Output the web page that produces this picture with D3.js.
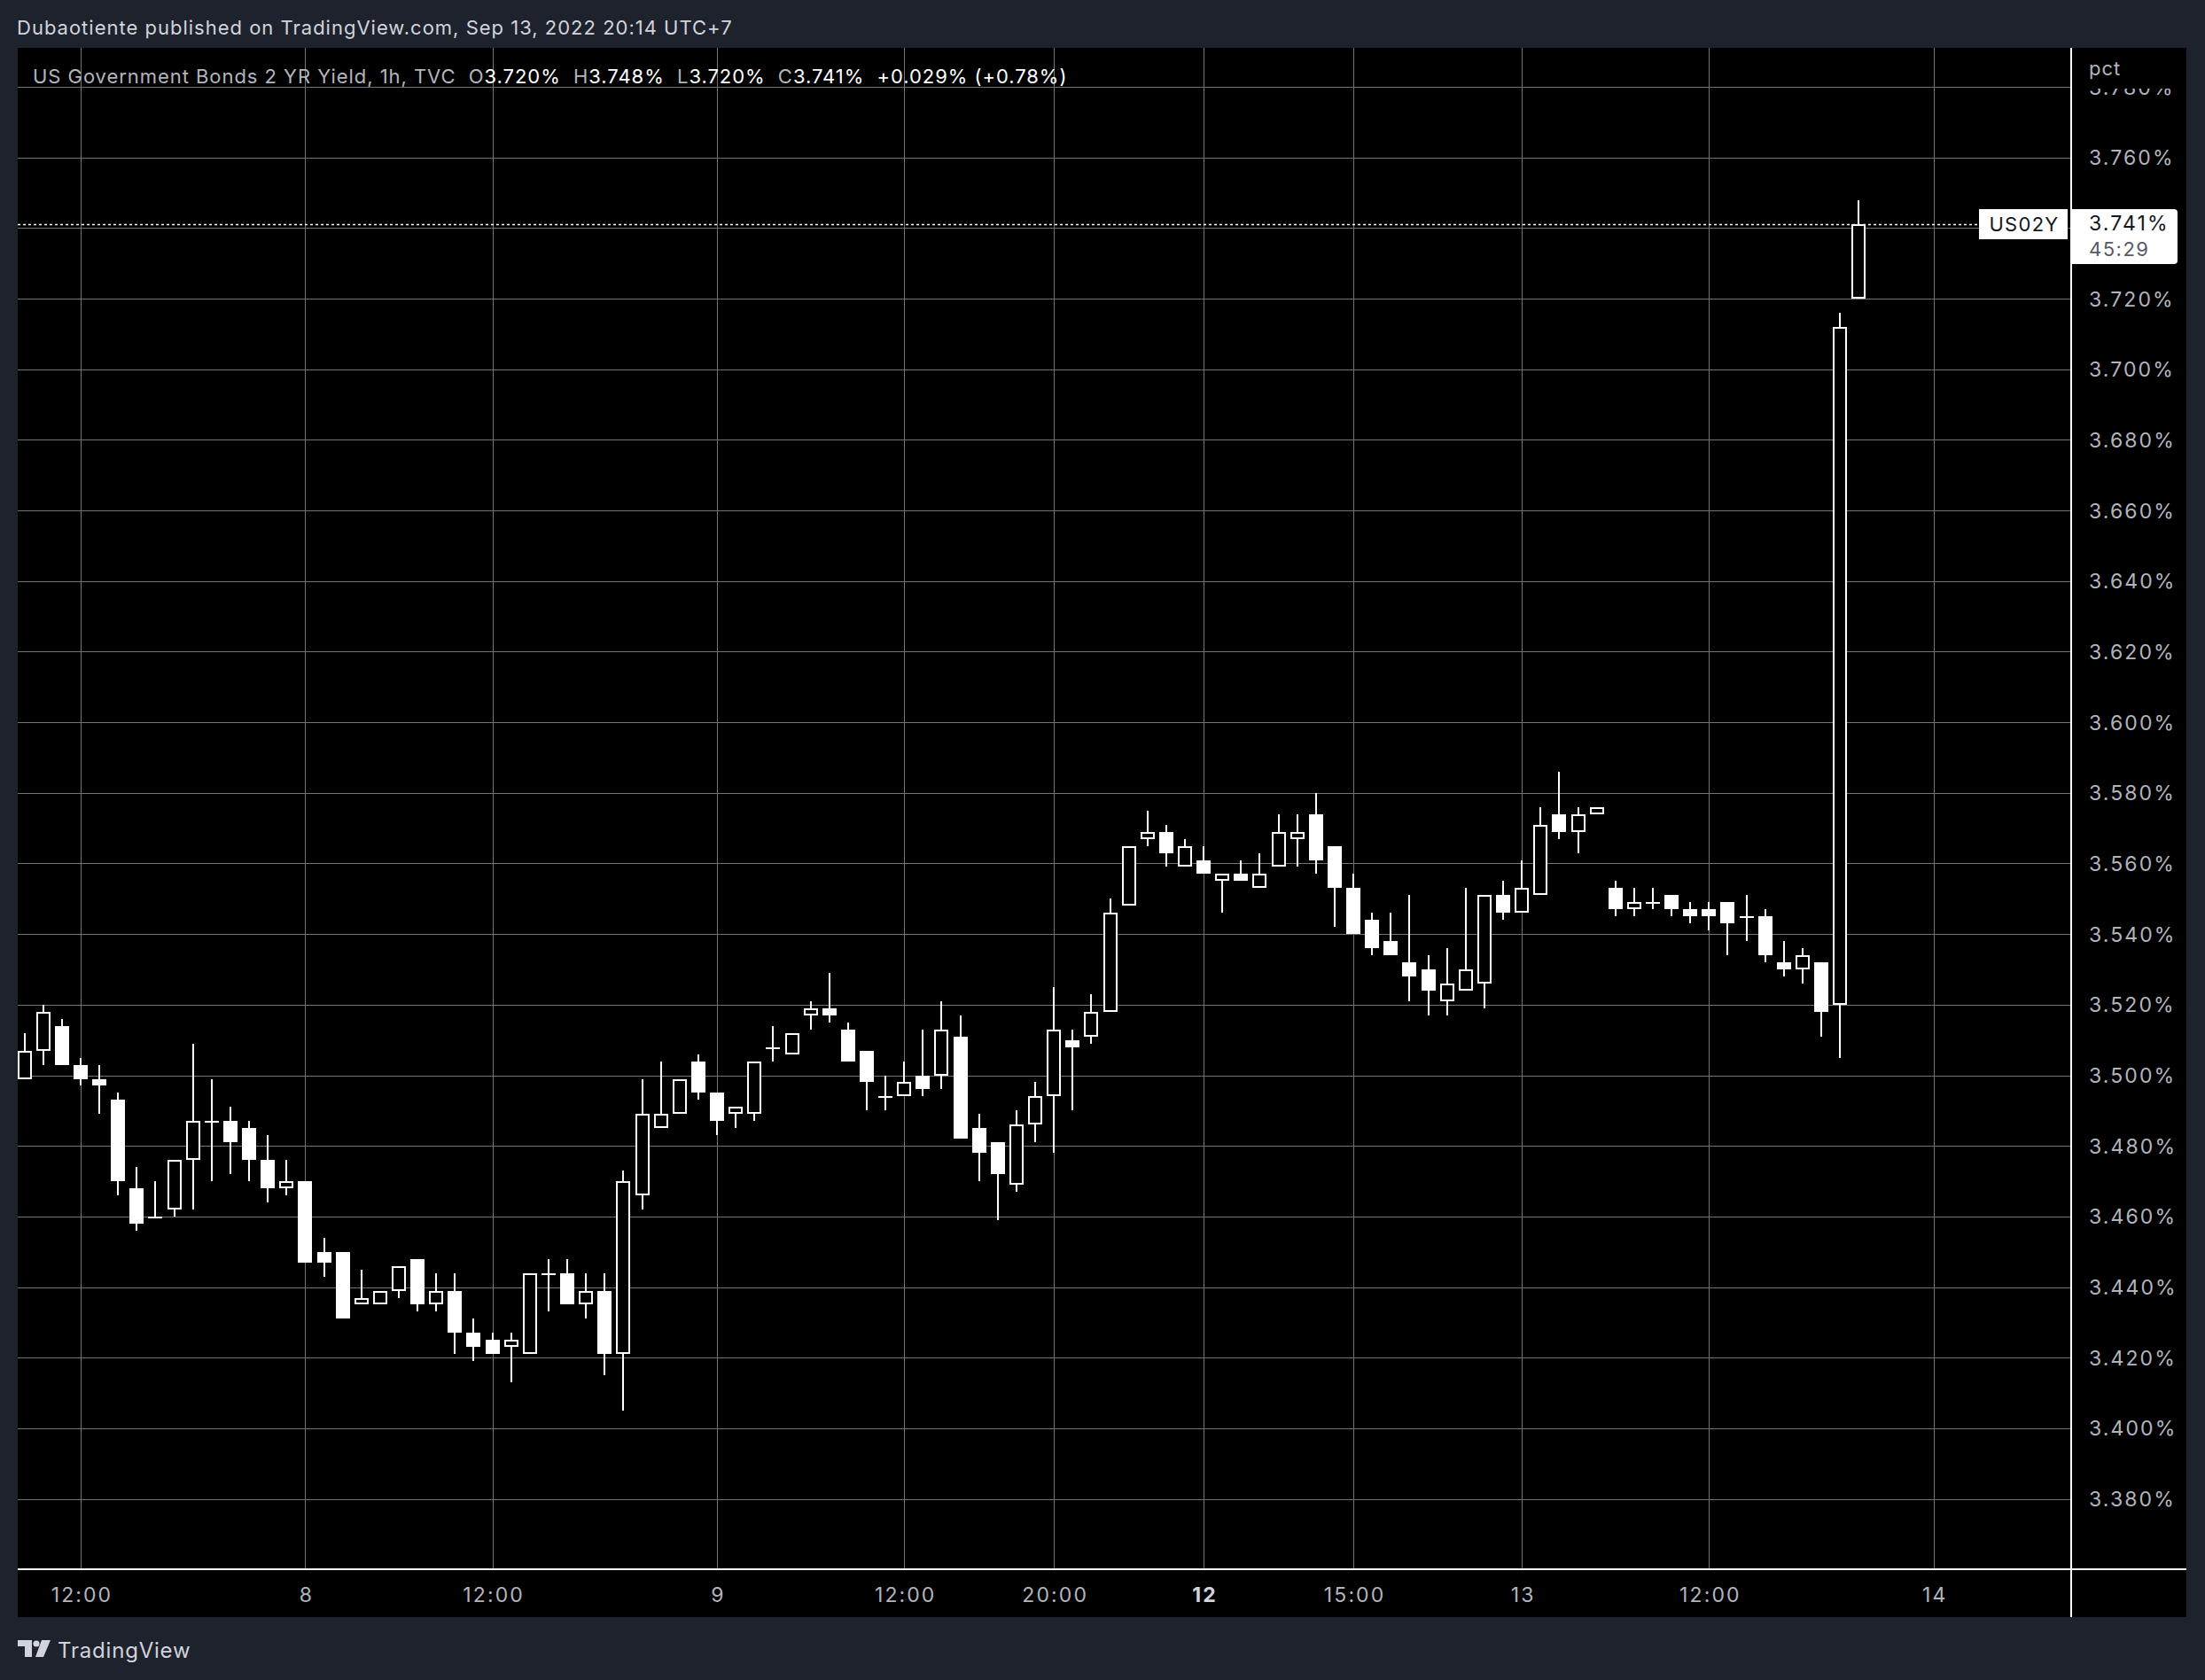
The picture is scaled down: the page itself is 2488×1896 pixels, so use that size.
<!DOCTYPE html>
<html><head><meta charset="utf-8">
<script src="https://cdn.jsdelivr.net/npm/d3@7/dist/d3.min.js"></script>
<style>
html,body{margin:0;padding:0;background:#1e222d;}
svg{display:block;}
text{white-space:pre;}
</style></head><body>
<script>
// ---- data (US02Y, 1h, TVC) ----
const opens  = [3.499,3.507,3.514,3.503,3.499,3.493,3.468,3.460,3.462,3.476,3.487,3.487,3.485,3.476,3.468,3.470,3.450,3.450,3.435,3.435,3.439,3.448,3.435,3.439,3.427,3.425,3.423,3.421,3.444,3.444,3.435,3.439,3.421,3.466,3.485,3.489,3.504,3.495,3.489,3.489,3.508,3.506,3.517,3.519,3.513,3.507,3.494,3.494,3.500,3.500,3.511,3.485,3.481,3.469,3.486,3.494,3.510,3.511,3.518,3.548,3.567,3.569,3.559,3.561,3.555,3.557,3.553,3.559,3.567,3.574,3.565,3.553,3.544,3.538,3.532,3.530,3.521,3.524,3.526,3.551,3.546,3.551,3.574,3.569,3.574,3.553,3.547,3.549,3.551,3.547,3.547,3.549,3.545,3.545,3.532,3.530,3.532,3.520,3.720];
const highs  = [3.512,3.520,3.516,3.505,3.503,3.495,3.474,3.470,3.476,3.509,3.499,3.491,3.487,3.483,3.476,3.470,3.454,3.450,3.445,3.439,3.446,3.448,3.444,3.444,3.431,3.427,3.427,3.444,3.448,3.448,3.444,3.444,3.473,3.499,3.504,3.499,3.506,3.495,3.491,3.504,3.514,3.512,3.521,3.529,3.515,3.507,3.500,3.504,3.513,3.521,3.517,3.489,3.481,3.490,3.498,3.525,3.513,3.523,3.550,3.565,3.575,3.571,3.567,3.565,3.557,3.561,3.563,3.574,3.574,3.580,3.565,3.557,3.546,3.546,3.551,3.534,3.536,3.553,3.551,3.555,3.561,3.576,3.586,3.576,3.576,3.555,3.553,3.553,3.551,3.549,3.549,3.549,3.551,3.547,3.538,3.536,3.532,3.716,3.748];
const lows   = [3.499,3.503,3.503,3.497,3.489,3.466,3.456,3.460,3.460,3.462,3.470,3.472,3.470,3.464,3.466,3.447,3.443,3.431,3.435,3.435,3.437,3.433,3.433,3.421,3.419,3.421,3.413,3.421,3.433,3.435,3.431,3.415,3.405,3.462,3.485,3.489,3.493,3.483,3.485,3.487,3.504,3.506,3.513,3.515,3.504,3.490,3.490,3.494,3.494,3.496,3.482,3.470,3.459,3.467,3.481,3.478,3.490,3.509,3.518,3.548,3.565,3.559,3.559,3.557,3.546,3.555,3.553,3.559,3.559,3.557,3.542,3.540,3.534,3.534,3.521,3.517,3.517,3.524,3.519,3.544,3.546,3.551,3.567,3.563,3.574,3.545,3.545,3.547,3.545,3.543,3.541,3.534,3.538,3.532,3.528,3.526,3.511,3.505,3.720];
const closes = [3.507,3.518,3.503,3.499,3.497,3.470,3.458,3.460,3.476,3.487,3.487,3.481,3.476,3.468,3.470,3.447,3.447,3.431,3.437,3.439,3.446,3.435,3.439,3.427,3.423,3.421,3.425,3.444,3.444,3.435,3.439,3.421,3.470,3.489,3.489,3.499,3.495,3.487,3.491,3.504,3.508,3.512,3.519,3.517,3.504,3.498,3.494,3.498,3.496,3.513,3.482,3.478,3.472,3.486,3.494,3.513,3.508,3.518,3.546,3.565,3.569,3.563,3.565,3.557,3.557,3.555,3.557,3.569,3.569,3.561,3.553,3.540,3.536,3.534,3.528,3.524,3.526,3.530,3.551,3.546,3.553,3.571,3.569,3.574,3.576,3.547,3.549,3.549,3.547,3.545,3.545,3.543,3.545,3.534,3.530,3.534,3.518,3.712,3.741];
const timeTickIndex  = [3, 15, 25, 37, 47, 55, 63, 71, 80, 90, 102];
const timeTickLabels = ["12:00","8","12:00","9","12:00","20:00","12","15:00","13","12:00","14"];
const boldTimeLabels = ["12"];
const priceTicks = [3.38,3.40,3.42,3.44,3.46,3.48,3.50,3.52,3.54,3.56,3.58,3.60,3.62,3.64,3.66,3.68,3.70,3.72,3.74,3.76,3.78];
const lastPrice = 3.741;
const headerText = "Dubaotiente published on TradingView.com, Sep 13, 2022 20:14 UTC+7";
const legendTitle = "US Government Bonds 2 YR Yield, 1h, TVC";
const legendParts = [["O","3.720%"],["H","3.748%"],["L","3.720%"],["C","3.741%"],["","+0.029% (+0.78%)"]];

// ---- layout ----
const W = 2488, H = 1896;
const paneL = 20, paneT = 54, paneR = 2337, paneB = 1771, axisR = 2467, timeB = 1825;
const FONT = "Inter, 'Noto Sans', sans-serif";

const svg = d3.select("body").append("svg").attr("width", W).attr("height", H);
svg.append("rect").attr("width", W).attr("height", H).attr("fill", "#1e222d");
svg.append("rect").attr("x", paneL).attr("y", paneT).attr("width", axisR - paneL).attr("height", timeB - paneT).attr("fill", "#000");

const x = d3.scaleLinear().domain([0, 102]).range([27.6, 2181.8]);
const y = d3.scaleLinear().domain([3.38, 3.76]).range([1691.6, 177.7]);

const defs = svg.append("defs");
defs.append("clipPath").attr("id", "pane").append("rect").attr("x", paneL).attr("y", paneT).attr("width", paneR - paneL).attr("height", paneB - paneT);
defs.append("clipPath").attr("id", "paxis").append("rect").attr("x", paneR).attr("y", 100).attr("width", axisR - paneR).attr("height", paneB - 100);

const pane = svg.append("g").attr("clip-path", "url(#pane)");

// grid
const gridColor = "#747474";
pane.append("g").selectAll("line").data(priceTicks).join("line")
  .attr("x1", paneL).attr("x2", paneR)
  .attr("y1", d => Math.round(y(d)) + 0.5).attr("y2", d => Math.round(y(d)) + 0.5)
  .attr("stroke", gridColor).attr("stroke-width", 1);
pane.append("g").selectAll("line").data(timeTickIndex).join("line")
  .attr("y1", paneT).attr("y2", paneB)
  .attr("x1", d => Math.round(x(d)) + 0.5).attr("x2", d => Math.round(x(d)) + 0.5)
  .attr("stroke", gridColor).attr("stroke-width", 1);

// candles
const idx = d3.range(opens.length);
const cg = pane.append("g");
idx.forEach(i => {
  const o = opens[i], h = highs[i], l = lows[i], c = closes[i];
  const cx = Math.round(x(i));
  let top = Math.round(y(Math.max(o, c))), bot = Math.round(y(Math.min(o, c)));
  if (bot - top < 2) bot = top + 2;
  const yH = Math.round(y(h)), yL = Math.round(y(l));
  const up = c > o;
  if (up && bot - top > 4) {
    if (yH < top) cg.append("rect").attr("x", cx - 1).attr("width", 2).attr("y", yH).attr("height", top - yH).attr("fill", "#fff");
    if (yL > bot) cg.append("rect").attr("x", cx - 1).attr("width", 2).attr("y", bot).attr("height", yL - bot).attr("fill", "#fff");
    cg.append("rect").attr("x", cx - 7).attr("y", top + 1).attr("width", 14).attr("height", bot - top - 2)
      .attr("fill", "#000").attr("stroke", "#fff").attr("stroke-width", 2);
  } else {
    cg.append("rect").attr("x", cx - 1).attr("width", 2).attr("y", Math.min(yH, top)).attr("height", Math.max(yL, bot) - Math.min(yH, top)).attr("fill", "#fff");
    cg.append("rect").attr("x", cx - 8).attr("y", top).attr("width", 16).attr("height", bot - top).attr("fill", "#fff");
  }
});

// last price dotted line
const yLast = Math.round(y(lastPrice)) + 0.5;
pane.append("line").attr("x1", paneL).attr("x2", 2233).attr("y1", yLast).attr("y2", yLast)
  .attr("stroke", "#fff").attr("stroke-width", 1.5).attr("stroke-dasharray", "3,3");

// legend
const leg = svg.append("text").attr("x", 37).attr("y", 86).attr("dominant-baseline", "central")
  .attr("font-family", FONT).attr("font-size", 22).attr("letter-spacing", 0.95).attr("fill", "#b2b5be");
leg.append("tspan").text(legendTitle + "  ");
legendParts.forEach(p => {
  leg.append("tspan").attr("fill", "#b2b5be").text(p[0]);
  leg.append("tspan").attr("fill", "#fff").text(p[1] + "  ");
});

// header
svg.append("text").attr("x", 19).attr("y", 31).attr("dominant-baseline", "central")
  .attr("font-family", FONT).attr("font-size", 22).attr("letter-spacing", 1).attr("fill", "#d1d4dc").text(headerText);

// separators
svg.append("rect").attr("x", paneL).attr("y", paneB - 1).attr("width", axisR - paneL).attr("height", 2).attr("fill", "#fff");
svg.append("rect").attr("x", paneR - 1).attr("y", paneT).attr("width", 2).attr("height", timeB - paneT).attr("fill", "#fff");

// price axis
const pax = svg.append("g").attr("clip-path", "url(#paxis)")
  .append("g").attr("transform", `translate(${paneR + 20},0)`)
  .call(d3.axisRight(y).tickValues(priceTicks).tickSize(0).tickPadding(0).tickFormat(d => d.toFixed(3) + "%"));
pax.select(".domain").remove();
pax.selectAll("text").attr("font-family", FONT).attr("font-size", 23).attr("letter-spacing", 2.1).attr("fill", "#b2b5be").attr("dy", "0.35em");
svg.append("text").attr("x", paneR + 20).attr("y", 77).attr("dominant-baseline", "central")
  .attr("font-family", FONT).attr("font-size", 22).attr("letter-spacing", 1).attr("fill", "#b2b5be").text("pct");

// time axis
const tax = svg.append("g").attr("transform", `translate(0,${paneB})`)
  .call(d3.axisBottom(x).tickValues(timeTickIndex).tickSize(0).tickPadding(0).tickFormat((d, i) => timeTickLabels[i]));
tax.select(".domain").remove();
const isBold = d => boldTimeLabels.includes(timeTickLabels[timeTickIndex.indexOf(d)]);
tax.selectAll("text").attr("font-family", FONT).attr("font-size", 23).attr("letter-spacing", 2.1)
  .attr("y", 29).attr("dy", "0.35em").attr("dx", 1)
  .attr("fill", d => isBold(d) ? "#d1d4dc" : "#b2b5be")
  .attr("font-weight", d => isBold(d) ? "bold" : "normal");

// symbol label + price label
svg.append("rect").attr("x", 2233).attr("y", 236).attr("width", 100).attr("height", 34).attr("fill", "#fff");
svg.append("text").attr("x", 2284).attr("y", 253).attr("text-anchor", "middle").attr("dominant-baseline", "central")
  .attr("font-family", FONT).attr("font-size", 22).attr("letter-spacing", 1.3).attr("fill", "#131722").text("US02Y");
svg.append("path").attr("d", "M2338,236 H2453 Q2457,236 2457,240 V294 Q2457,298 2453,298 H2338 Z").attr("fill", "#fff");
svg.append("text").attr("x", paneR + 20).attr("y", 252).attr("dominant-baseline", "central")
  .attr("font-family", FONT).attr("font-size", 23).attr("letter-spacing", 2.1).attr("fill", "#131722").text(lastPrice.toFixed(3) + "%");
svg.append("text").attr("x", paneR + 20).attr("y", 281).attr("dominant-baseline", "central")
  .attr("font-family", FONT).attr("font-size", 22).attr("letter-spacing", 1.5).attr("fill", "#555a66").text("45:29");

// footer logo
const logo = svg.append("g").attr("fill", "#d1d4dc");
logo.append("path").attr("d", "M20,1851 H36 V1870 H28 V1858 H20 Z");
logo.append("circle").attr("cx", 41).attr("cy", 1855).attr("r", 3.6);
logo.append("path").attr("d", "M47,1851 H57 L49,1870 H40 Z");
svg.append("text").attr("x", 65).attr("y", 1862).attr("dominant-baseline", "central")
  .attr("font-family", FONT).attr("font-size", 24).attr("letter-spacing", 0.8).attr("fill", "#d1d4dc").text("TradingView");
</script>
</body></html>
